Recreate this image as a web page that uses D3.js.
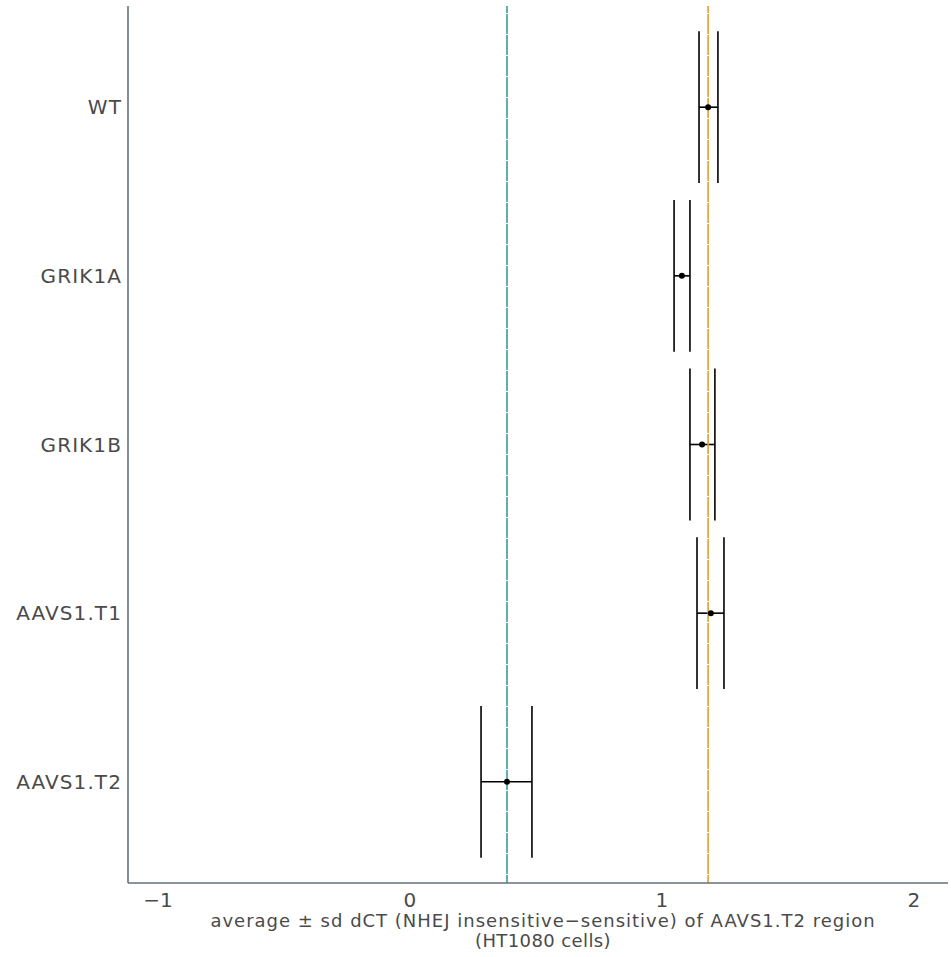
<!DOCTYPE html>
<html>
<head>
<meta charset="utf-8">
<script src="https://cdn.jsdelivr.net/npm/d3@7"></script>
<style>
  body { margin: 0; background: #fff; }
  text { font-family: "DejaVu Sans", sans-serif; fill: #4a4a4a; }
</style>
</head>
<body>
<div id="chart"></div>
<script>
// samples, top to bottom
const samples = ["WT", "GRIK1A", "GRIK1B", "AAVS1.T1", "AAVS1.T2"];
const means = [1.183, 1.079, 1.159, 1.194, 0.385];
const lows = [1.147, 1.048, 1.111, 1.139, 0.282];
const highs = [1.222, 1.111, 1.210, 1.246, 0.484];
const xTicks = [-1, 0, 1, 2];
// reference lines: AAVS1.T2 mean and WT mean
const refLines = [
  { value: 0.385, color: "#3a9b9b" },
  { value: 1.183, color: "#e0a02a" }
];
const titleLines = [
  "average \u00b1 sd dCT (NHEJ insensitive\u2212sensitive) of AAVS1.T2 region",
  "(HT1080 cells)"
];

const width = 951, height = 957;
const plotLeft = 128, plotRight = 948, plotTop = 6, plotBottom = 883;

const svg = d3.select("#chart").append("svg")
  .attr("width", width)
  .attr("height", height);

const x = d3.scaleLinear().domain([-1.119, 2.135]).range([plotLeft, plotRight]);
const y = d3.scalePoint().domain(samples).range([plotTop, plotBottom]).padding(0.6);
const half = y.step() * 0.45;

const data = samples.map((s, i) => ({ name: s, mean: means[i], lo: lows[i], hi: highs[i] }));

// --- error bars ---
const bars = svg.append("g")
  .attr("stroke", "#000")
  .attr("stroke-width", 1.6)
  .selectAll("g")
  .data(data)
  .join("g");

bars.append("line")
  .attr("x1", d => x(d.lo)).attr("x2", d => x(d.hi))
  .attr("y1", d => y(d.name)).attr("y2", d => y(d.name));
bars.append("line")
  .attr("x1", d => x(d.lo)).attr("x2", d => x(d.lo))
  .attr("y1", d => y(d.name) - half).attr("y2", d => y(d.name) + half);
bars.append("line")
  .attr("x1", d => x(d.hi)).attr("x2", d => x(d.hi))
  .attr("y1", d => y(d.name) - half).attr("y2", d => y(d.name) + half);

// --- vertical reference lines ---
svg.append("g")
  .selectAll("line")
  .data(refLines)
  .join("line")
  .attr("x1", d => x(d.value)).attr("x2", d => x(d.value))
  .attr("y1", plotTop).attr("y2", plotBottom)
  .attr("stroke", d => d.color)
  .attr("stroke-width", 1.6)
  .attr("stroke-dasharray", "20,1")
  .attr("stroke-dashoffset", -8);

// --- points ---
svg.append("g")
  .selectAll("circle")
  .data(data)
  .join("circle")
  .attr("cx", d => x(d.mean))
  .attr("cy", d => y(d.name))
  .attr("r", 3)
  .attr("fill", "#000");

// --- axes ---
const axisColor = "#66707a";
svg.append("line")
  .attr("x1", plotLeft).attr("x2", plotLeft)
  .attr("y1", plotTop).attr("y2", plotBottom)
  .attr("stroke", axisColor).attr("stroke-width", 1.6);
svg.append("line")
  .attr("x1", plotLeft).attr("x2", plotRight)
  .attr("y1", plotBottom).attr("y2", plotBottom)
  .attr("stroke", axisColor).attr("stroke-width", 1.6);

svg.append("g")
  .selectAll("text")
  .data(samples)
  .join("text")
  .attr("x", plotLeft - 6)
  .attr("y", d => y(d))
  .attr("dy", "0.36em")
  .attr("text-anchor", "end")
  .attr("font-size", 20)
  .attr("letter-spacing", 1.1)
  .text(d => d);

svg.append("g")
  .selectAll("text")
  .data(xTicks)
  .join("text")
  .attr("x", d => x(d))
  .attr("y", 907)
  .attr("text-anchor", "middle")
  .attr("font-size", 20)
  .text(d => d < 0 ? "\u2212" + Math.abs(d) : d);

// --- axis title ---
svg.append("g")
  .selectAll("text")
  .data(titleLines)
  .join("text")
  .attr("x", 543)
  .attr("y", (d, i) => 927 + i * 20)
  .attr("text-anchor", "middle")
  .attr("font-size", 18)
  .attr("letter-spacing", (d, i) => i === 0 ? 1.0 : 0.4)
  .text(d => d);
</script>
</body>
</html>
